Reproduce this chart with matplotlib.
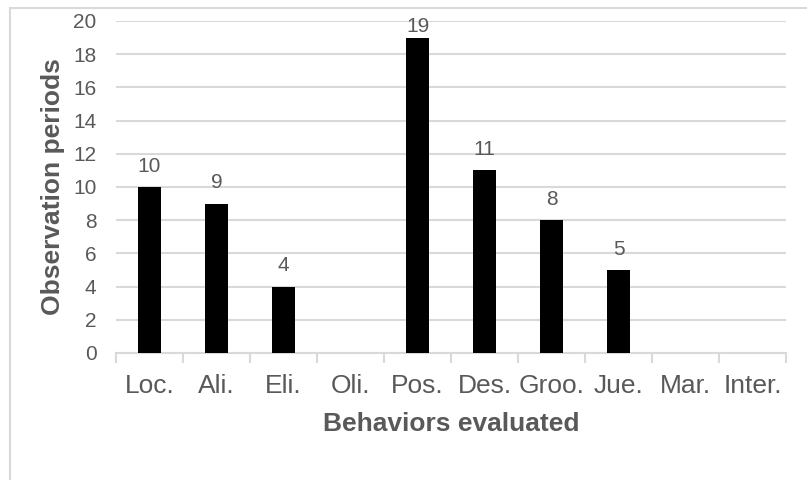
import matplotlib.pyplot as plt
from matplotlib.patches import Rectangle

behaviors = ["Loc.", "Ali.", "Eli.", "Oli.", "Pos.", "Des.", "Groo.", "Jue.", "Mar.", "Inter."]
periods = [10, 9, 4, 0, 19, 11, 8, 5, 0, 0]

grey = "#595959"
light = "#d9d9d9"
plt.rcParams['font.family'] = ['Liberation Sans', 'DejaVu Sans']

fig = plt.figure(figsize=(8.07, 4.80), dpi=100)
W, H = 807, 480
ax = fig.add_axes([116 / W, 1 - 353 / H, (786 - 116) / W, (353 - 21) / H])

# chart border (only left/top visible, rest is cropped off)
fig.patches.append(Rectangle((10 / W, -0.1), 1.2, 1.1 - 8 / H, transform=fig.transFigure,
                             fill=False, edgecolor=light, linewidth=1.5))

ymax = 20
x = list(range(len(behaviors)))
ax.bar(x, periods, width=0.34, color="black", zorder=3)
for xi, v in zip(x, periods):
    if v > 0:
        # labels near the top get squeezed down to stay inside the plot area
        off = 8 if v < ymax - 2 else 1
        ax.annotate(str(v), (xi, v), xytext=(0, off), textcoords="offset points",
                    ha="center", va="bottom", fontsize=15, color=grey)

ax.set_xlim(-0.5, len(behaviors) - 0.5)
ax.set_ylim(0, ymax)
ax.set_yticks(range(0, ymax + 1, 2))
ax.yaxis.grid(True, color=light, linewidth=1.5, zorder=0)
ax.set_axisbelow(True)

for s in ["top", "right", "left"]:
    ax.spines[s].set_visible(False)
ax.spines["bottom"].set_color(light)
ax.spines["bottom"].set_linewidth(1.5)

ax.set_xticks(x)
ax.set_xticklabels(behaviors)
ax.set_xticks([i - 0.5 for i in range(len(behaviors) + 1)], minor=True)
ax.tick_params(axis="x", which="major", length=0, pad=15, labelsize=19, labelcolor=grey)
ax.tick_params(axis="x", which="minor", length=7, width=1.5, color=light)
ax.tick_params(axis="y", length=0, pad=14, labelsize=15, labelcolor=grey)

ax.set_xlabel("Behaviors evaluated", fontsize=19, fontweight="bold", color=grey, labelpad=10)
ax.set_ylabel("Observation periods", fontsize=19, fontweight="bold", color=grey, labelpad=6)

fig.savefig("out.png", dpi=100)
